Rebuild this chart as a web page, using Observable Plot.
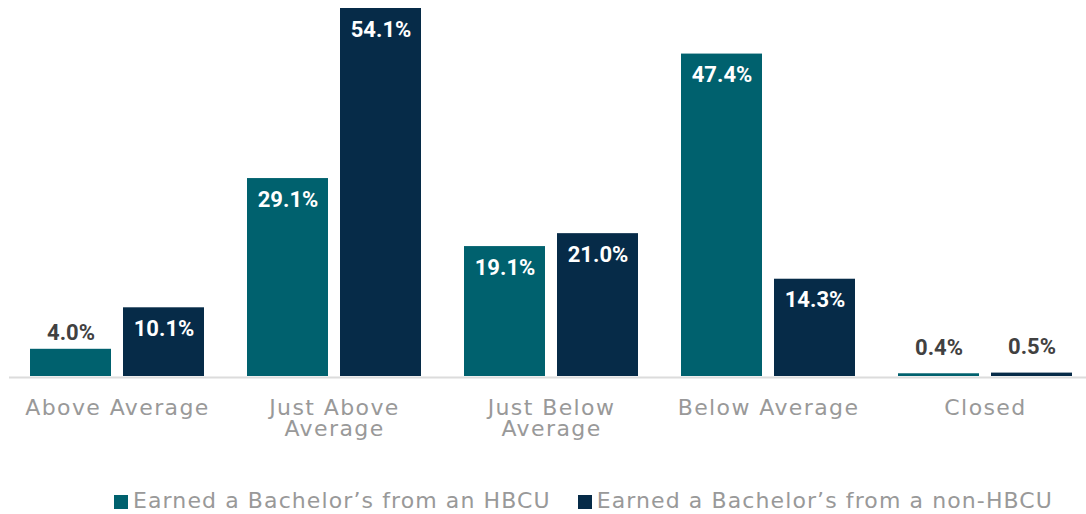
<!DOCTYPE html>
<html>
<head>
<meta charset="utf-8">
<script src="https://cdn.jsdelivr.net/npm/d3@7"></script>
<script src="https://cdn.jsdelivr.net/npm/@observablehq/plot@0.6"></script>
<style>
  html, body { margin: 0; padding: 0; background: #fff; }
  #chart svg { display: block; }
  #chart g[aria-label="x-axis tick label"] text { letter-spacing: 1.4px; }
  .legend { display: flex; align-items: center; height: 30px; margin-top: 25px; padding-left: 114px;
            font-family: "DejaVu Sans", sans-serif; font-size: 22px; letter-spacing: 1.1px; color: #999; white-space: nowrap; }
  .legend .item { display: flex; align-items: center; margin-right: 27px; }
  .legend .sw { width: 14px; height: 14px; margin-right: 5px; margin-top: 3px; }
</style>
</head>
<body>
<div id="chart"></div>
<script>
const categories = ["Above Average", "Just Above\nAverage", "Just Below\nAverage", "Below Average", "Closed"];
const series = ["Earned a Bachelor’s from an HBCU", "Earned a Bachelor’s from a non-HBCU"];
const hbcu = [4.0, 29.1, 19.1, 47.4, 0.4];
const nonHbcu = [10.1, 54.1, 21.0, 14.3, 0.5];
const colors = ["#00616e", "#062b48"];

const rows = [];
categories.forEach((c, i) => {
  rows.push({category: c, series: series[0], value: hbcu[i], idx: 0});
  rows.push({category: c, series: series[1], value: nonHbcu[i], idx: 1});
});
const inside = d => d.value >= 8;
const tiny = d => d.value < 1;
const fmt = d => d.value.toFixed(1) + "%";
const lbl = {x: "category", y: "value", text: fmt, fontSize: 22, fontWeight: "bold", fontFamily: "Roboto, sans-serif"};
const off = [-46.5, 46.5];

const textMarks = [0, 1].flatMap(k => [
  Plot.text(rows.filter(d => d.idx === k && inside(d)), {...lbl, dx: off[k], dy: 21, fill: "white"}),
  Plot.text(rows.filter(d => d.idx === k && !inside(d) && !tiny(d)), {...lbl, dx: off[k], dy: -16, fill: "#414141"}),
  Plot.text(rows.filter(d => d.idx === k && tiny(d)), {...lbl, dx: off[k], dy: -26, fill: "#414141"})
]);

const chart = Plot.plot({
  width: 1086,
  height: 460,
  marginTop: 8,
  marginBottom: 84,
  marginLeft: 9,
  marginRight: 0,
  style: {fontFamily: "DejaVu Sans, sans-serif"},
  x: {domain: categories, paddingInner: 0.2, paddingOuter: 0.077, align: 0.6, axis: null},
  y: {domain: [0, 54.1], axis: null},
  color: {domain: series, range: colors},
  marks: [
    Plot.ruleY([0], {stroke: "#dcdcdc", strokeWidth: 2, dy: 1}),
    Plot.barY(rows.filter(d => d.idx === 0), {x: "category", y: "value", fill: "series", insetRight: 93}),
    Plot.barY(rows.filter(d => d.idx === 1), {x: "category", y: "value", fill: "series", insetLeft: 93}),
    ...textMarks,
    Plot.axisX({label: null, tickSize: 0, tickPadding: 23, fontSize: 22, fill: "#999", lineHeight: 0.96})
  ]
});
document.getElementById("chart").append(chart);

const legend = document.createElement("div");
legend.className = "legend";
series.forEach((s, i) => {
  const item = document.createElement("div");
  item.className = "item";
  const sw = document.createElement("span");
  sw.className = "sw";
  sw.style.background = colors[i];
  const t = document.createElement("span");
  t.textContent = s;
  item.append(sw, t);
  legend.append(item);
});
document.body.append(legend);
</script>
</body>
</html>
